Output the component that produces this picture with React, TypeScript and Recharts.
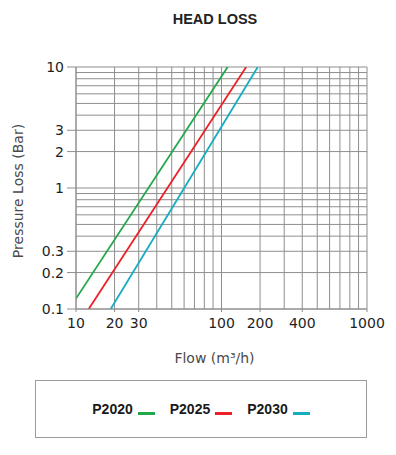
import React from "react";
import { CartesianGrid, Label, Legend, Line, LineChart, XAxis, YAxis } from "recharts";

// readings taken off the printed chart (flow m3/h, pressure loss bar)
const seriesNames = ["P2020", "P2025", "P2030"];
const seriesColors = ["#22a84a", "#ec2028", "#14adc2"];
const flowP2020 = [10, 116];
const lossP2020 = [0.122, 10];
const flowP2025 = [13.3, 164];
const lossP2025 = [0.1, 10];
const flowP2030 = [19, 194];
const lossP2030 = [0.1, 10];

const xTicks = [10, 20, 30, 100, 200, 400, 1000];
const yTicks = [0.1, 0.2, 0.3, 1, 2, 3, 10];
const xGrid = [10, 20, 30, 40, 50, 60, 70, 80, 90, 100, 200, 300, 400, 500, 600, 700, 800, 900, 1000];
const yGrid = [0.1, 0.2, 0.3, 0.4, 0.5, 0.6, 0.7, 0.8, 0.9, 1, 2, 3, 4, 5, 6, 7, 8, 9, 10];

// the printed flow axis is not a true log grid: each decade is divided like this
const decadeSplit: [number, number][] = [
  [1, 0], [2, 0.265], [3, 0.431], [4, 0.555], [5, 0.658],
  [6, 0.743], [7, 0.814], [8, 0.882], [9, 0.942], [10, 1],
];

function toUnits(v: number) {
  if (!(v > 0)) return NaN;
  let e = Math.floor(Math.log10(v) + 1e-9);
  let m = v / Math.pow(10, e);
  if (m >= 10) { m /= 10; e += 1; }
  for (let i = 1; i < decadeSplit.length; i++) {
    const [m0, f0] = decadeSplit[i - 1];
    const [m1, f1] = decadeSplit[i];
    if (m <= m1) return e + f0 + ((m - m0) / (m1 - m0)) * (f1 - f0);
  }
  return e + 1;
}

function fromUnits(u: number) {
  const e = Math.floor(u);
  const f = u - e;
  for (let i = 1; i < decadeSplit.length; i++) {
    const [m0, f0] = decadeSplit[i - 1];
    const [m1, f1] = decadeSplit[i];
    if (f <= f1) return (m0 + ((f - f0) / (f1 - f0)) * (m1 - m0)) * Math.pow(10, e);
  }
  return Math.pow(10, e + 1);
}

function flowScale(dom: number[] = [10, 1000], rng: number[] = [0, 1]): any {
  let d = dom.slice();
  let r = rng.slice();
  const s: any = (v: number) => {
    const u0 = toUnits(d[0]);
    const u1 = toUnits(d[1]);
    return r[0] + ((toUnits(v) - u0) / (u1 - u0)) * (r[1] - r[0]);
  };
  s.domain = (x?: number[]) => {
    if (x === undefined) return d.slice();
    d = x.map(Number);
    return s;
  };
  s.range = (x?: number[]) => {
    if (x === undefined) return r.slice();
    r = x.map(Number);
    return s;
  };
  s.invert = (px: number) => {
    const u0 = toUnits(d[0]);
    const u1 = toUnits(d[1]);
    return fromUnits(u0 + ((px - r[0]) / (r[1] - r[0])) * (u1 - u0));
  };
  s.copy = () => flowScale(d, r);
  s.ticks = () => xTicks;
  s.tickFormat = () => (v: number) => String(v);
  s.nice = () => s;
  s.clamp = (c?: boolean) => (c === undefined ? false : s);
  return s;
}

const makeData = (flow: number[], loss: number[]) => flow.map((f, i) => ({ flow: f, loss: loss[i] }));
const seriesData = [
  makeData(flowP2020, lossP2020),
  makeData(flowP2025, lossP2025),
  makeData(flowP2030, lossP2030),
];

const tickFont = { fontFamily: "DejaVu Sans", fontSize: 14, fill: "#1e1e1e" };
const gridColor = "#8e8e8e";

function LegendBox({ payload }: any) {
  return (
    <div
      style={{
        boxSizing: "border-box",
        width: 332,
        height: 58,
        border: "1.5px solid #9b9b9b",
        display: "flex",
        alignItems: "center",
        justifyContent: "center",
        fontFamily: "Liberation Sans, Arial, sans-serif",
        fontWeight: 700,
        fontSize: 14,
        color: "#1a1a1a",
      }}
    >
      {(payload || []).map((p: any, i: number) => (
        <div key={p.value} style={{ display: "flex", alignItems: "center", marginLeft: i === 0 ? 0 : 15 }}>
          <span>{p.value}</span>
          <span style={{ display: "inline-block", width: 17, height: 3, marginLeft: 5, marginTop: 8, background: p.color }} />
        </div>
      ))}
    </div>
  );
}

export default function App() {
  return (
    <div style={{ position: "absolute", left: 0, top: 0, width: 396, height: 455, background: "#fff" }}>
      <div
        style={{
          position: "absolute",
          left: 215,
          top: 12,
          transform: "translateX(-50%)",
          whiteSpace: "nowrap",
          fontFamily: "Liberation Sans, Arial, sans-serif",
          fontWeight: 700,
          fontSize: 14.5,
          lineHeight: "14.5px",
          color: "#222",
        }}
      >
        HEAD LOSS
      </div>
      <LineChart width={396} height={455} margin={{ top: 67, right: 29, bottom: 0, left: 0 }}>
        <CartesianGrid stroke={gridColor} verticalValues={xGrid} horizontalValues={yGrid} />
        <XAxis
          dataKey="flow"
          type="number"
          scale={flowScale()}
          domain={[10, 1000]}
          allowDataOverflow
          ticks={xTicks}
          interval={0}
          height={146}
          tickSize={3}
          tickMargin={6}
          tick={tickFont}
          stroke={gridColor}
        >
          <Label
            content={({ viewBox }: any) => (
              <text
                x={viewBox.x + viewBox.width / 2 - 7}
                y={viewBox.y + 54}
                textAnchor="middle"
                fontFamily="DejaVu Sans"
                fontSize={14}
                fill="#4a4a4a"
              >
                Flow (m³/h)
              </text>
            )}
          />
        </XAxis>
        <YAxis
          dataKey="loss"
          type="number"
          scale="log"
          domain={[0.1, 10]}
          allowDataOverflow
          ticks={yTicks}
          interval={0}
          width={76}
          tickSize={9}
          tickMargin={3}
          tick={tickFont}
          stroke={gridColor}
        >
          <Label
            content={({ viewBox }: any) => {
              const cx = viewBox.x + 18;
              const cy = viewBox.y + viewBox.height / 2 + 3;
              return (
                <text
                  x={cx}
                  y={cy}
                  dy={5}
                  transform={`rotate(-90, ${cx}, ${cy})`}
                  textAnchor="middle"
                  fontFamily="DejaVu Sans"
                  fontSize={14}
                  fill="#4a4a4a"
                >
                  Pressure Loss (Bar)
                </text>
              );
            }}
          />
        </YAxis>
        {seriesNames.map((name, i) => (
          <Line
            key={name}
            name={name}
            data={seriesData[i]}
            dataKey="loss"
            type="linear"
            stroke={seriesColors[i]}
            strokeWidth={1.8}
            dot={false}
            activeDot={false}
            isAnimationActive={false}
          />
        ))}
        <Legend
          layout="horizontal"
          verticalAlign="middle"
          align="center"
          wrapperStyle={{ position: "absolute", left: 35, top: 380, width: 332, height: 58 }}
          content={<LegendBox />}
        />
      </LineChart>
    </div>
  );
}
